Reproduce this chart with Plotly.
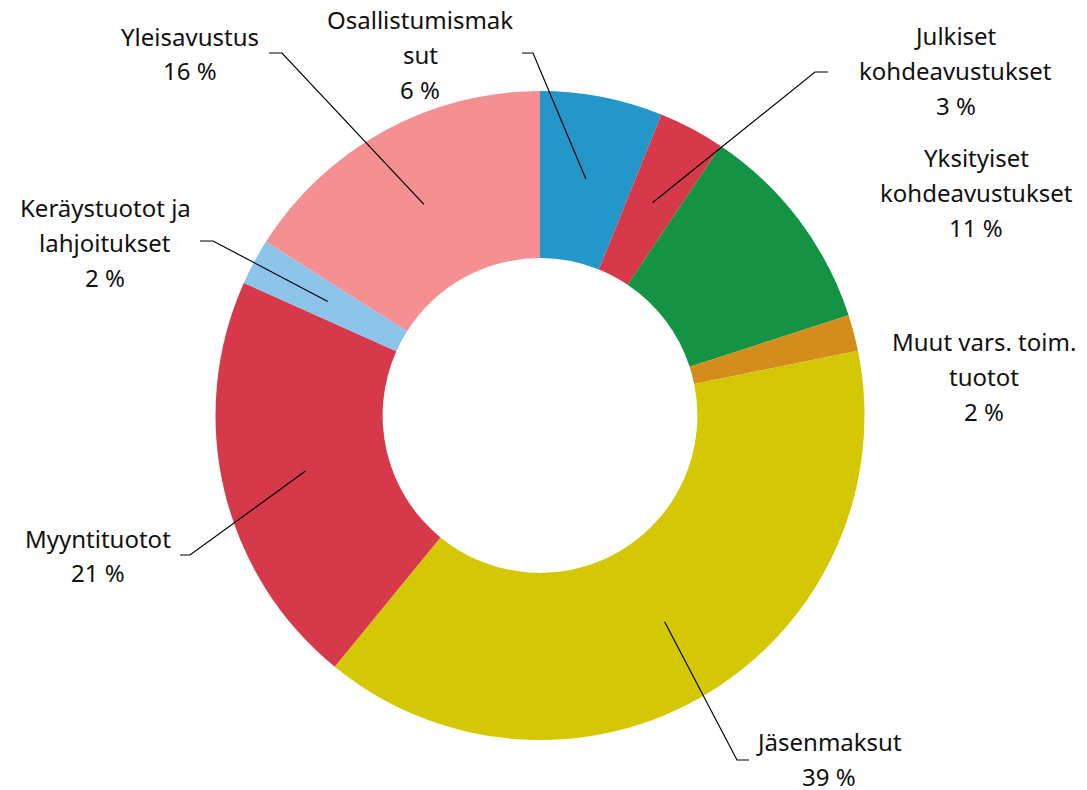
import math
import plotly.graph_objects as go

# ---------------- data ----------------
categories = [
    "Osallistumismaksut",
    "Julkiset kohdeavustukset",
    "Yksityiset kohdeavustukset",
    "Muut vars. toim. tuotot",
    "Jäsenmaksut",
    "Myyntituotot",
    "Keräystuotot ja lahjoitukset",
    "Yleisavustus",
]
label_lines = [
    ["Osallistumismak", "sut"],
    ["Julkiset", "kohdeavustukset"],
    ["Yksityiset", "kohdeavustukset"],
    ["Muut vars. toim.", "tuotot"],
    ["Jäsenmaksut"],
    ["Myyntituotot"],
    ["Keräystuotot ja", "lahjoitukset"],
    ["Yleisavustus"],
]
shares = [6.1, 3.3, 10.6, 1.8, 39.1, 20.8, 2.3, 16.0]
colors = ["#2397c9", "#d63a4a", "#139343", "#d48c1b",
          "#d4c804", "#d63a4a", "#8cc4ea", "#f48f92"]

# ---------------- layout (pixels) ----------------
W, H = 1087, 790
OFF = 8  # page body margin
CX, CY, R = 540, 415.5, 324.5
HOLE = 0.485
LINE_H = 34.8
DY = -1.5
FONT = dict(family="Noto Sans, Open Sans, sans-serif", size=24, color="#111111")

# label block centre (x, y) and leader (end x, knee x, y) or None
label_place = [
    (420, 56, (522, 533, 53)),
    (956, 72, (828, 815, 72)),
    (976, 194, None),
    (984, 378, None),
    (829, 760.5, (749, 737, 760)),
    (97.5, 557, (180, 190, 555)),
    (105, 244, (200, 213, 241)),
    (190, 55, (269, 282, 53)),
]


def px(x):
    return (x - OFF) / W


def py(y):
    return 1 - (y - OFF) / H


fig = go.Figure(go.Pie(
    labels=categories,
    values=shares,
    sort=False,
    direction="clockwise",
    rotation=0,
    hole=HOLE,
    marker=dict(colors=colors, line=dict(width=0)),
    textinfo="none",
    hoverinfo="label+percent",
    showlegend=False,
    domain=dict(x=[px(CX - R), px(CX + R)], y=[py(CY + R), py(CY - R)]),
))

total = sum(shares)
annotations = []
shapes = []
cum = 0.0
r_mid = R * (1 + HOLE) / 2
for name_lines, val, (lx, ly, leader) in zip(label_lines, shares, label_place):
    mid = (cum + val / 2) / total * 2 * math.pi
    cum += val
    lines = name_lines + [f"{round(val / total * 100):.0f} %"]
    n = len(lines)
    for i, t in enumerate(lines):
        yy = ly + (i - (n - 1) / 2) * LINE_H + DY
        annotations.append(dict(
            x=px(lx), y=py(yy), xref="paper", yref="paper",
            text=t, showarrow=False, xanchor="center", yanchor="middle",
            font=FONT,
        ))
    if leader is not None:
        ex, kx, ky = leader
        sx = CX + r_mid * math.sin(mid)
        sy = CY - r_mid * math.cos(mid)
        path = (f"M {px(ex)},{py(ky)} L {px(kx)},{py(ky)} "
                f"L {px(sx)},{py(sy)}")
        shapes.append(dict(type="path", path=path, xref="paper", yref="paper",
                           line=dict(color="#000000", width=1.2)))

fig.update_layout(
    width=W, height=H,
    margin=dict(l=0, r=0, t=0, b=0),
    paper_bgcolor="white",
    plot_bgcolor="white",
    annotations=annotations,
    shapes=shapes,
)

fig.write_html("out.html")
